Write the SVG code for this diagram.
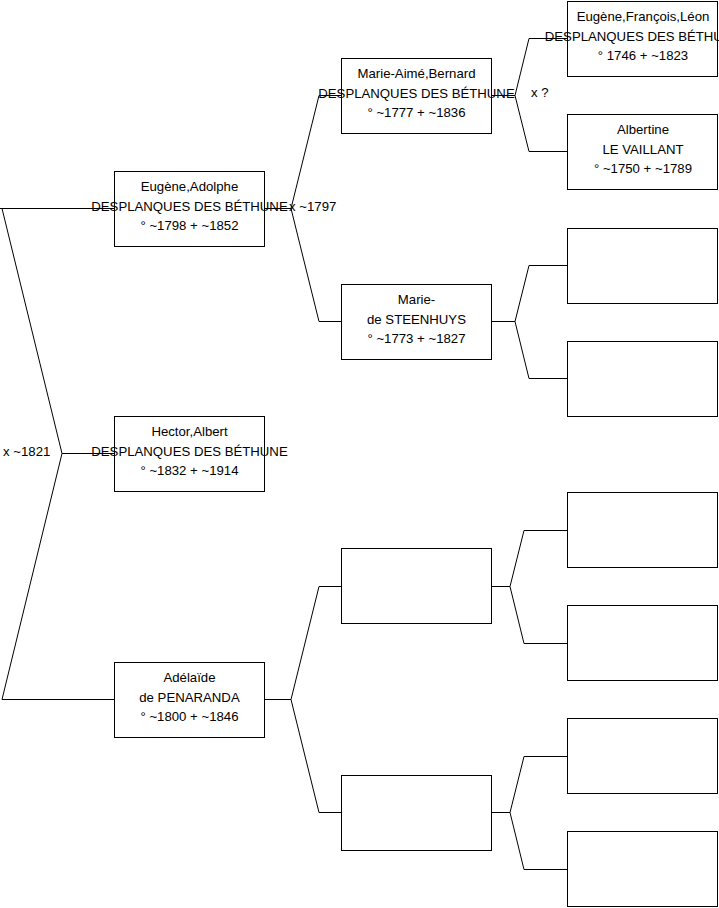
<svg xmlns="http://www.w3.org/2000/svg" width="719" height="908" viewBox="0 0 719 908">
<style>
.box{fill:#fff;stroke:#000;stroke-width:1}
.ln{fill:none;stroke:#000;stroke-width:1}
text{font-family:"Liberation Sans",Arial,sans-serif;font-size:13.2px;fill:#000}
.c{text-anchor:middle}
</style>
<rect width="719" height="908" fill="#fff"/>
<g id="connectors">
<polyline class="ln" points="0,208.5 114,208.5"/>
<polyline class="ln" points="2,208.5 62,453.5 2,699.5 114,699.5"/>
<polyline class="ln" points="62,453.5 114,453.5"/>
<polyline class="ln" points="265,208.5 291,208.5"/>
<polyline class="ln" points="341,95.5 319,95.5 291,208.5 319,321.5 341,321.5"/>
<polyline class="ln" points="265,699.5 291,699.5"/>
<polyline class="ln" points="341,586.5 319,586.5 291,699.5 319,812.5 341,812.5"/>
<polyline class="ln" points="492,95.5 515,95.5"/>
<polyline class="ln" points="567,38.5 529,38.5 515,95.5 529,151.5 567,151.5"/>
<polyline class="ln" points="492,321.5 515,321.5"/>
<polyline class="ln" points="567,265.5 529,265.5 515,321.5 529,378.5 567,378.5"/>
<polyline class="ln" points="492,586.5 510,586.5"/>
<polyline class="ln" points="567,530.5 524,530.5 510,586.5 524,643.5 567,643.5"/>
<polyline class="ln" points="492,812.5 510,812.5"/>
<polyline class="ln" points="567,756.5 524,756.5 510,812.5 524,869.5 567,869.5"/>
<text x="3" y="456">x ~1821</text>
<text x="289" y="211">x ~1797</text>
<text x="531" y="97">x ?</text>
</g>
<g id="n-eugene-adolphe">
<rect class="box" x="114.5" y="171.5" width="150" height="75"/>
<text class="c" x="189.5" y="191">Eugène,Adolphe</text>
<text class="c" x="189.5" y="211">DESPLANQUES DES BÉTHUNE</text>
<text class="c" x="189.5" y="230">° ~1798 + ~1852</text>
</g>
<g id="n-hector">
<rect class="box" x="114.5" y="416.5" width="150" height="75"/>
<text class="c" x="189.5" y="436">Hector,Albert</text>
<text class="c" x="189.5" y="456">DESPLANQUES DES BÉTHUNE</text>
<text class="c" x="189.5" y="475">° ~1832 + ~1914</text>
</g>
<g id="n-adelaide">
<rect class="box" x="114.5" y="662.5" width="150" height="75"/>
<text class="c" x="189.5" y="682">Adélaïde</text>
<text class="c" x="189.5" y="702">de PENARANDA</text>
<text class="c" x="189.5" y="721">° ~1800 + ~1846</text>
</g>
<g id="n-marie-aime">
<rect class="box" x="341.5" y="58.5" width="150" height="75"/>
<text class="c" x="416.5" y="78">Marie-Aimé,Bernard</text>
<text class="c" x="416.5" y="98">DESPLANQUES DES BÉTHUNE</text>
<text class="c" x="416.5" y="117">° ~1777 + ~1836</text>
</g>
<g id="n-marie-steenhuys">
<rect class="box" x="341.5" y="284.5" width="150" height="75"/>
<text class="c" x="416.5" y="304">Marie-</text>
<text class="c" x="416.5" y="324">de STEENHUYS</text>
<text class="c" x="416.5" y="343">° ~1773 + ~1827</text>
</g>
<g id="n-empty-2a"><rect class="box" x="341.5" y="548.5" width="150" height="75"/></g>
<g id="n-empty-2b"><rect class="box" x="341.5" y="775.5" width="150" height="75"/></g>
<g id="n-eugene-francois">
<rect class="box" x="567.5" y="1.5" width="150" height="75"/>
<text class="c" x="643" y="21">Eugène,François,Léon</text>
<text class="c" x="643" y="41">DESPLANQUES DES BÉTHUNE</text>
<text class="c" x="643" y="60">° 1746 + ~1823</text>
</g>
<g id="n-albertine">
<rect class="box" x="567.5" y="114.5" width="150" height="75"/>
<text class="c" x="643" y="134">Albertine</text>
<text class="c" x="643" y="154">LE VAILLANT</text>
<text class="c" x="643" y="173">° ~1750 + ~1789</text>
</g>
<g id="n-empty-3a"><rect class="box" x="567.5" y="228.5" width="150" height="75"/></g>
<g id="n-empty-3b"><rect class="box" x="567.5" y="341.5" width="150" height="75"/></g>
<g id="n-empty-3c"><rect class="box" x="567.5" y="492.5" width="150" height="75"/></g>
<g id="n-empty-3d"><rect class="box" x="567.5" y="605.5" width="150" height="75"/></g>
<g id="n-empty-3e"><rect class="box" x="567.5" y="718.5" width="150" height="75"/></g>
<g id="n-empty-3f"><rect class="box" x="567.5" y="831.5" width="150" height="75"/></g>
</svg>
